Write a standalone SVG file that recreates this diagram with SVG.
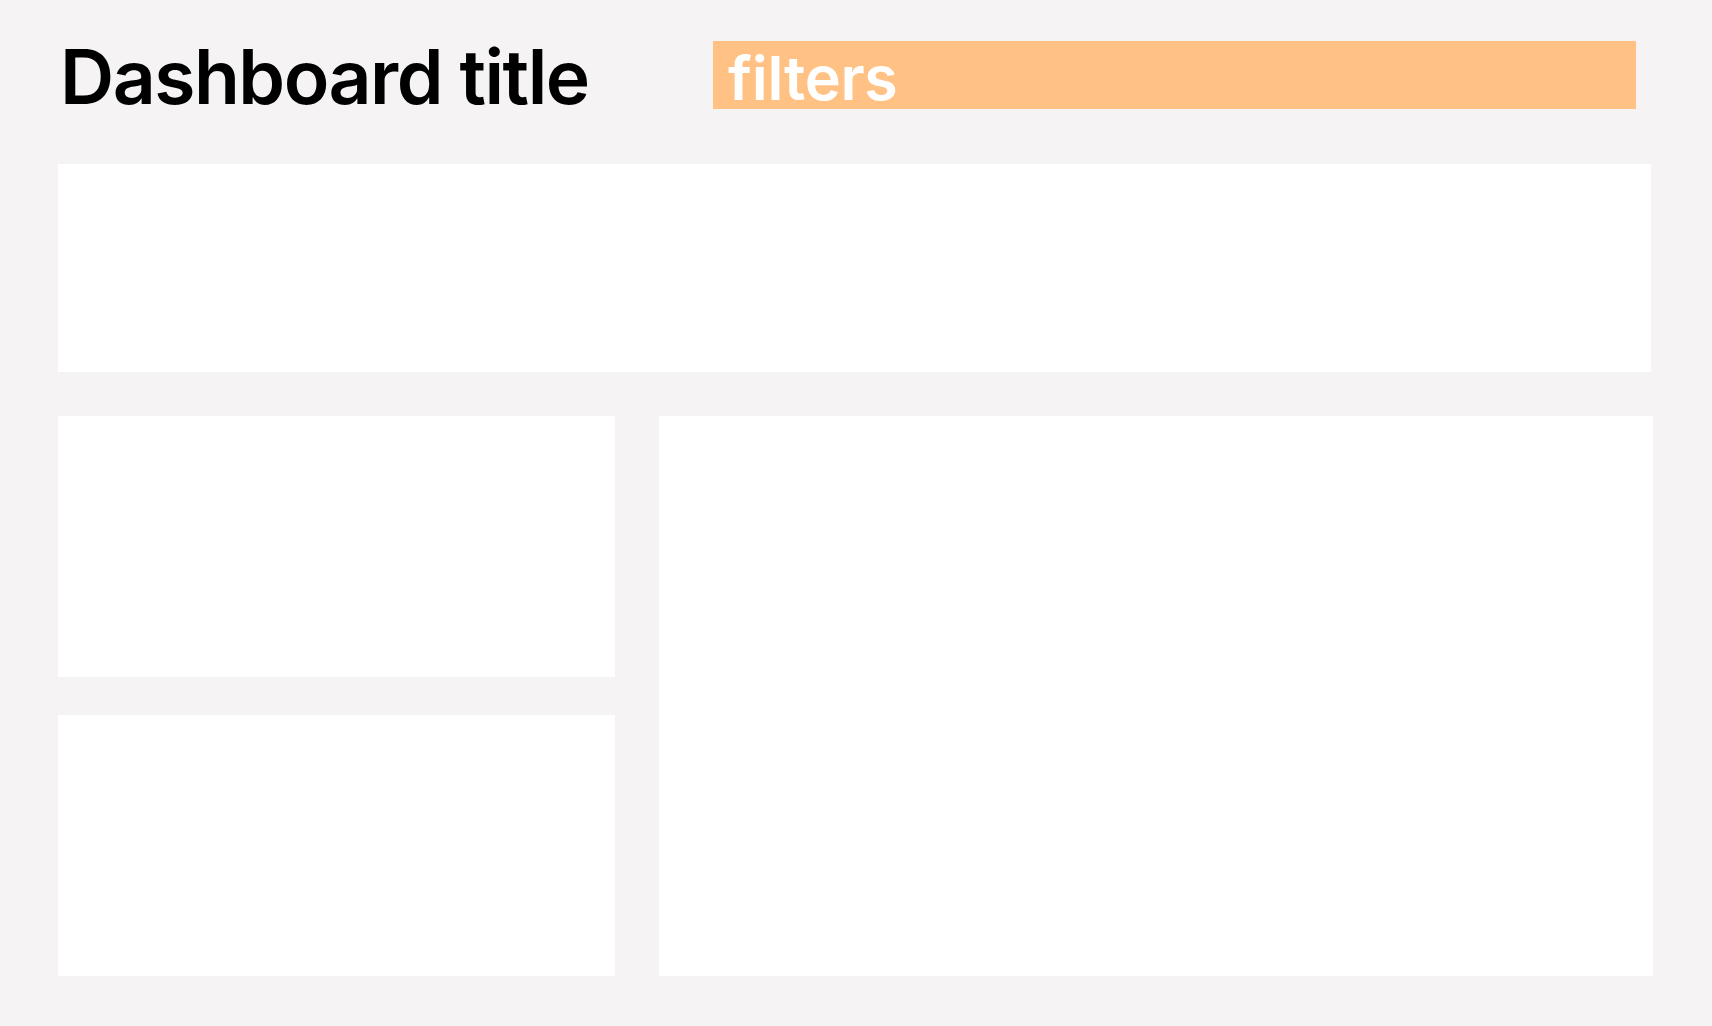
<svg xmlns="http://www.w3.org/2000/svg" width="1712" height="1026" viewBox="0 0 1712 1026">
<style>
.panel{fill:#ffffff}
.t{font-family:Inter,"Liberation Sans",sans-serif;font-weight:600}
</style>
<rect width="1712" height="1026" fill="#f5f3f4"/>
<g id="title"><text class="t" x="60" y="104" font-size="75" fill="#000" letter-spacing="-1.5">Dashboard title</text></g>
<g id="filters"><rect x="713" y="41" width="923" height="68" fill="#ffc184"/><text class="t" x="728" y="100" font-size="61" fill="#fff" letter-spacing="-0.3">filters</text></g>
<g id="panel-top"><rect class="panel" x="58" y="164" width="1593" height="208"/></g>
<g id="panel-left-1"><rect class="panel" x="58" y="416" width="557" height="261"/></g>
<g id="panel-left-2"><rect class="panel" x="58" y="715" width="557" height="261"/></g>
<g id="panel-right"><rect class="panel" x="659" y="416" width="994" height="560"/></g>
<g id="connectors"/>
</svg>
